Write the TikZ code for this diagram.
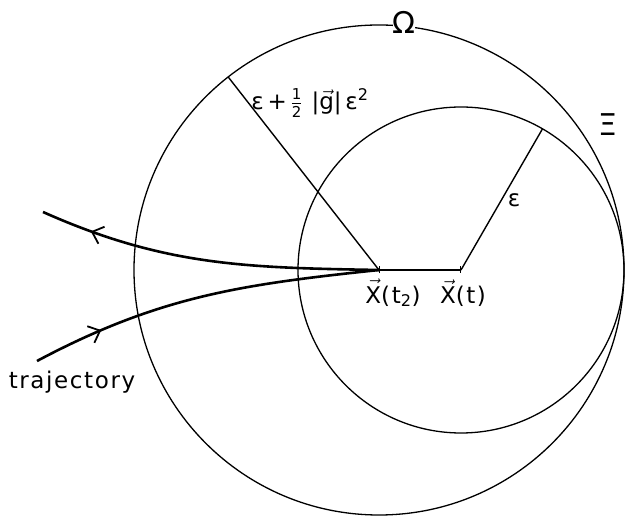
\documentclass[tikz,border=0pt]{standalone}
\usepackage{fontspec}
\setmainfont[LetterSpace=7]{DejaVu Sans}
\usetikzlibrary{arrows.meta,positioning,calc,decorations.markings}
\newcommand{\vecsym}[1]{\ensuremath{\vec{\mbox{#1}}}}
\newcommand{\halfsym}{\ensuremath{\frac{\mbox{\fontsize{15}{15}\selectfont 1}}{\mbox{\fontsize{15}{15}\selectfont 2}}}}

\begin{document}
\begin{tikzpicture}[
  x=1pt,y=1pt,
  orbit/.style={line width=1.3pt},
  rline/.style={line width=1.4pt},
  traj/.style={
    line width=2.6pt,
    postaction={decorate},
    decoration={markings,mark=at position #1 with {\arrow{Straight Barb[length=10pt,width=18pt,line width=1.8pt]}}}
  },
  txt/.style={font=\fontsize{23}{27}\selectfont,inner sep=0pt},
  greek/.style={font=\fontsize{30}{32}\selectfont,inner sep=0pt}
]
  \useasboundingbox (0,0) rectangle (627,519);
  % centres
  \coordinate (xt2) at (379,249);
  \coordinate (xt) at (461,249);
  % the two balls
  \draw[orbit] (xt2) circle[radius=245pt];
  \draw[orbit] (xt) circle[radius=163pt];
  % radii
  \coordinate (omegaEnd) at ($(xt2)+(128:245pt)$);
  \coordinate (xiEnd) at ($(xt)+(60:163pt)$);
  \draw[rline] (omegaEnd) -- (xt2);
  \draw[rline] (xt) -- (xiEnd);
  \draw[line width=2.6pt,{Bar[width=7pt,line width=1.4pt]}-{Bar[width=7pt,line width=1.4pt]}] (xt2) -- (xt);
  % trajectory
  \coordinate (trajOut) at (43,307);
  \coordinate (trajIn) at (37,158);
  \draw[traj=0.85] (xt2) to[out=179,in=-24] (trajOut);
  \draw[traj=0.2] (trajIn) to[out=28,in=186] (xt2);
  % labels
  \node[greek,fill=white] (omega) at (404,497) {Ω};
  \node[greek] (xi) at (608,394) {Ξ};
  \node[txt] (bigR) at (310,416) {ε\,+\,\halfsym\ |\vecsym{g}|\,ε\textsuperscript{2}};
  \node[txt] (eps) at (514,319) {ε};
  \node[txt] (lxt2) at (393,226) {\vecsym{X}(t\textsubscript{2})};
  \node[txt] (lxt) at (463,226) {\vecsym{X}(t)};
  \node[txt] (trajLabel) at (72,137) {trajectory};
\end{tikzpicture}
\end{document}
